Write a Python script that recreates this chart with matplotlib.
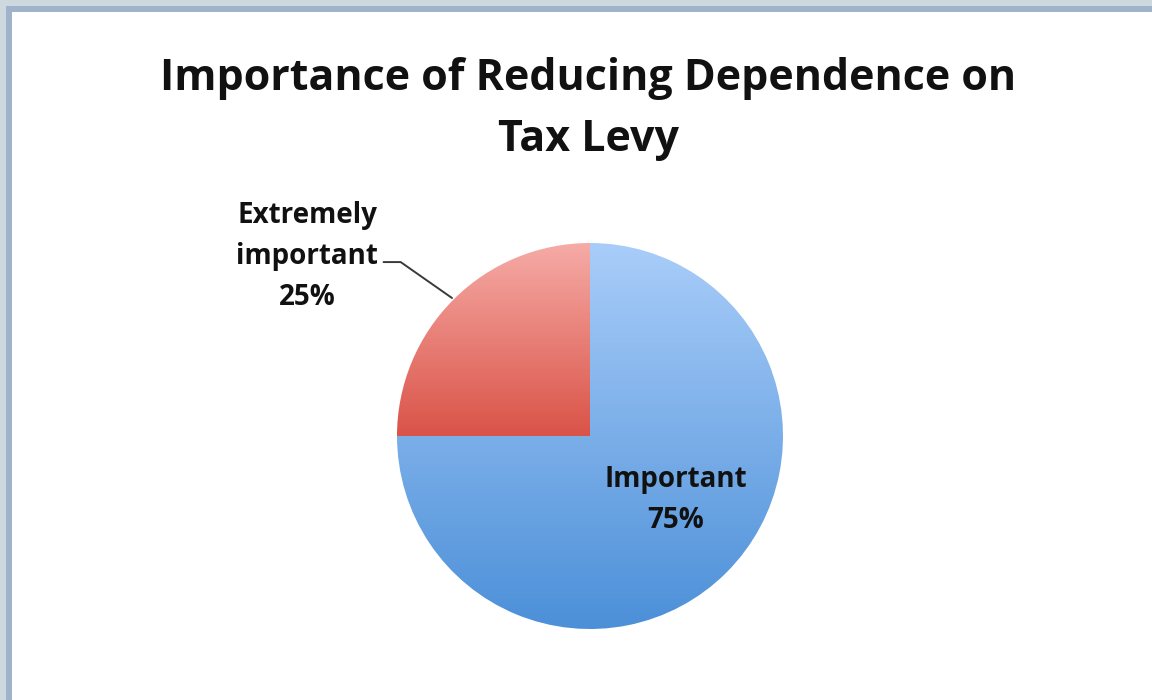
import numpy as np
import matplotlib
matplotlib.use('Agg')
import matplotlib.pyplot as plt
from matplotlib.colors import LinearSegmentedColormap
from matplotlib.patches import Rectangle

# Data
labels = ['Extremely\nimportant', 'Important']
shares = [25, 75]
title = 'Importance of Reducing Dependence on\nTax Levy'

# gradient colours (top, bottom) for each slice
grad_colors = [('#f6aba7', '#da5347'), ('#a9cdf9', '#4b8fd8')]

plt.rcParams['font.family'] = ['Open Sans', 'DejaVu Sans']

fig = plt.figure(figsize=(11.52, 7.0), dpi=100)
fig.patch.set_facecolor('white')

# window-like frame on the top / left
frame_ax = fig.add_axes([0, 0, 1, 1])
frame_ax.set_xlim(0, 1152)
frame_ax.set_ylim(700, 0)
frame_ax.axis('off')
frame_ax.add_patch(Rectangle((0, 0), 1152, 6, color='#cdd8df', lw=0))
frame_ax.add_patch(Rectangle((0, 0), 6, 700, color='#cdd8df', lw=0))
frame_ax.add_patch(Rectangle((6, 6), 1146, 6, color='#9fb3cb', lw=0))
frame_ax.add_patch(Rectangle((6, 6), 6, 694, color='#9fb3cb', lw=0))

fig.text(588 / 1152, 1 - 109 / 700, title, ha='center', va='center',
         fontsize=31, fontweight='bold', color='#111111', linespacing=1.55)

# pie axes: centre at (590, 436) px, radius 193 px
ax = fig.add_axes([(590 - 193) / 1152, (700 - 436 - 193) / 700,
                   386 / 1152, 386 / 700])
wedges, _ = ax.pie(shares, startangle=90, counterclock=True,
                   radius=1.0, wedgeprops=dict(linewidth=0))
ax.set_xlim(-1, 1)
ax.set_ylim(-1, 1)
ax.axis('off')

# fill each wedge with a vertical gradient
for w, (top, bot) in zip(wedges, grad_colors):
    w.set_facecolor('none')
    cmap = LinearSegmentedColormap.from_list('g', [top, bot])
    verts = w.get_path().vertices * w.r + np.array(w.center)
    y0, y1 = verts[:, 1].min(), verts[:, 1].max()
    x0, x1 = verts[:, 0].min(), verts[:, 0].max()
    grad = np.linspace(0, 1, 256).reshape(-1, 1)
    im = ax.imshow(grad, cmap=cmap, extent=[x0, x1, y0, y1],
                   aspect='auto', origin='upper', zorder=1)
    im.set_clip_path(w)

# labels
pct = [f'{s}%' for s in shares]
ax.annotate(labels[0] + '\n' + pct[0], xy=(-0.715, 0.715),
            xytext=(-1.466, 0.93), ha='center', va='center',
            fontsize=20, fontweight='bold', color='#111111',
            linespacing=1.55, annotation_clip=False,
            arrowprops=dict(arrowstyle='-', color='#3a3a3a', lw=1.4,
                            shrinkA=2, shrinkB=0,
                            connectionstyle='angle,angleA=0,angleB=-35,rad=0',
                            relpos=(1.0, 0.45)))
ax.text(0.446, -0.33, labels[1] + '\n' + pct[1], ha='center', va='center',
        fontsize=20, fontweight='bold', color='#111111', linespacing=1.55)

fig.savefig('out.png', dpi=100, facecolor='white')
